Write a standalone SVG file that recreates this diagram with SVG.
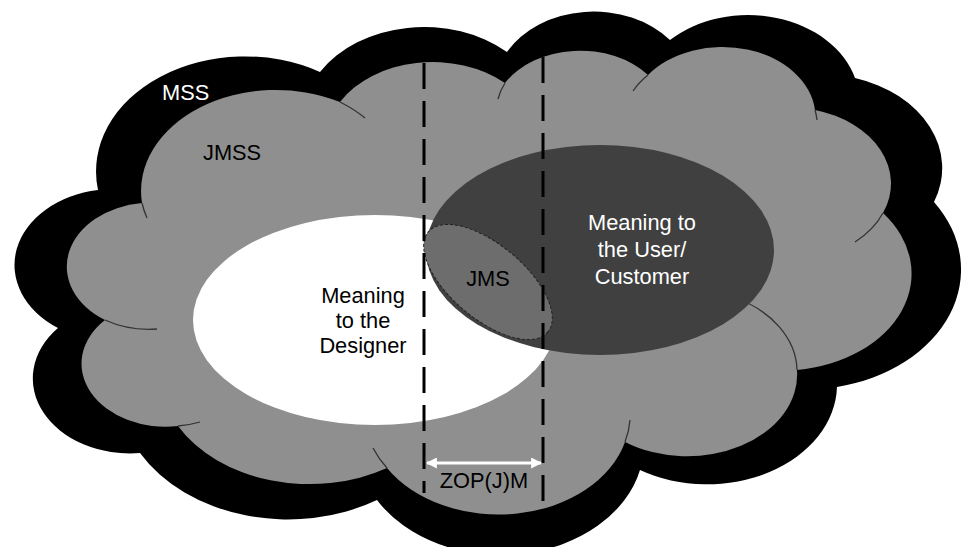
<svg xmlns="http://www.w3.org/2000/svg" width="962" height="547" viewBox="0 0 962 547">
<defs>
<style>
text{font-family:"Liberation Sans",Arial,sans-serif;font-size:21.8px}
.w{fill:#fff}.k{fill:#000}
.arc{fill:none;stroke:#333;stroke-width:1.3}
.dash{stroke:#000;stroke-width:3;stroke-dasharray:26 12;fill:none}
</style>
<marker id="ah" viewBox="0 0 10 10" refX="9" refY="5" markerWidth="11" markerHeight="11" markerUnits="userSpaceOnUse" orient="auto-start-reverse">
<path d="M0,0 L10,5 L0,10 Z" fill="#fff"/>
</marker>
</defs>
<rect width="962" height="547" fill="#fff"/>
<g id="mss">
<path fill="#000" d="M58,328 A99,76 0 0 1 98,190 A149,115 0 0 1 320,72 A122,94 0 0 1 507,52 A98,76 0 0 1 670,40 A111,86 0 0 1 855,78 A122,94 0 0 1 934,202 A156,120 0 0 1 837,387 A130,100 0 0 1 640,470 A143,110 0 0 1 377,500 A170,131 0 0 1 140,453 A97,75 0 0 1 58,328 Z"/>
<text class="w" x="162" y="100">MSS</text>
</g>
<g id="jmss">
<path fill="#8f8f8f" d="M105,320 A85,64 0 0 1 142,203 A135,101 0 0 1 340,102 A107,80 0 0 1 505,83 A87,65 0 0 1 648,75 A93,70 0 0 1 815,110 A102,76 0 0 1 883,213 A130,97 0 0 1 797,370 A110,82 0 0 1 625,442 A131,98 0 0 1 387,468 A150,112 0 0 1 178,426 A84,63 0 0 1 105,320 Z"/>
<path class="arc" d="M142,203 A135,101 0 0 0 147,218 M340,102 A135,101 0 0 1 365,118 M505,83 A87,65 0 0 0 498,99 M648,75 A93,70 0 0 0 633,91 M815,110 A93,70 0 0 1 817,120 M883,213 A102,76 0 0 1 855,242 M797,370 A110,82 0 0 0 733,297 M625,442 A131,98 0 0 0 630,420 M387,468 A131,98 0 0 1 373,448 M178,426 A84,63 0 0 0 200,422 M105,320 A85,64 0 0 0 157,329"/>
<text class="k" x="203" y="160">JMSS</text>
</g>
<g id="designer">
<ellipse cx="375" cy="320" rx="182" ry="105" fill="#fff"/>
<text class="k" text-anchor="middle"><tspan x="363" y="303">Meaning</tspan><tspan x="363" y="328">to the</tspan><tspan x="363" y="353">Designer</tspan></text>
</g>
<g id="user">
<ellipse cx="600" cy="250" rx="174" ry="105" fill="#404040"/>
<text class="w" text-anchor="middle"><tspan x="642" y="230">Meaning to</tspan><tspan x="642" y="257">the User/</tspan><tspan x="642" y="284">Customer</tspan></text>
</g>
<g id="jms">
<ellipse cx="488" cy="282" rx="78" ry="37" transform="rotate(40 488 282)" fill="#6d6d6d" stroke="#222" stroke-width="1" stroke-dasharray="3 2"/>
<text class="k" x="488" y="286" text-anchor="middle">JMS</text>
</g>
<g id="connectors">
<line class="dash" x1="424" y1="63" x2="424" y2="493"/>
<line class="dash" x1="543" y1="57" x2="543" y2="503"/>
<line x1="427" y1="463" x2="541" y2="463" stroke="#fff" stroke-width="3" marker-start="url(#ah)" marker-end="url(#ah)"/>
</g>
<g id="zop">
<text class="k" x="484" y="488" text-anchor="middle">ZOP(J)M</text>
</g>
</svg>
